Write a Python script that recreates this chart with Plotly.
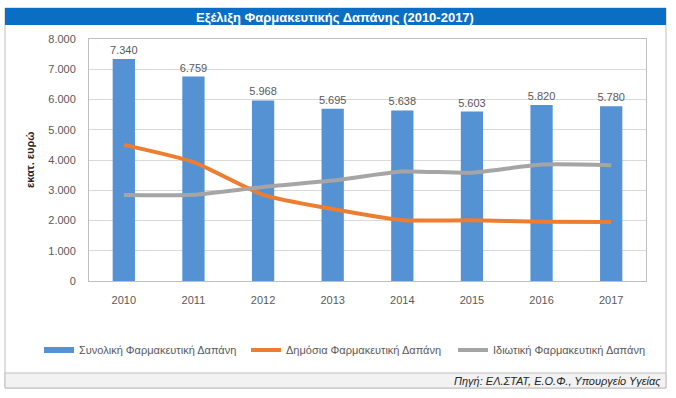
import plotly.graph_objects as go

years = ["2010", "2011", "2012", "2013", "2014", "2015", "2016", "2017"]
total = [7340, 6759, 5968, 5695, 5638, 5603, 5820, 5780]
public = [4500, 3930, 2850, 2380, 2010, 2010, 1960, 1950]
private = [2840, 2850, 3110, 3320, 3620, 3580, 3850, 3830]

title_text = "Εξέλιξη Φαρμακευτικής Δαπάνης (2010-2017)"
names = ["Συνολική Φαρμακευτική Δαπάνη", "Δημόσια Φαρμακευτική Δαπάνη", "Ιδιωτική Φαρμακευτική Δαπάνη"]
y_title = "εκατ. ευρώ"
source = "Πηγή: ΕΛ.ΣΤΑΤ, Ε.Ο.Φ., Υπουργείο Υγείας"

W, H = 676, 398
L, R, T, B = 89, 646, 39, 281
FONT = "Liberation Sans"
BLUE = "#5592d4"

def px(p):
    return (p - L) / (R - L)

def py(p):
    return (B - p) / (B - T)

fig = go.Figure()
fig.add_trace(go.Bar(
    x=years, y=total, name=names[0], width=0.32, showlegend=False,
    marker=dict(color=BLUE, line=dict(width=0)),
    texttemplate="%{y:,.0f}", textposition="outside", constraintext="none",
    textfont=dict(size=11, color="#595959", family=FONT), cliponaxis=False,
))
# legend-only entry for the bars (line-shaped swatch as in the reference)
fig.add_trace(go.Scatter(
    x=[years[0]], y=[None], name=names[0], mode="lines", legend="legend",
    line=dict(color=BLUE, width=6),
))
fig.add_trace(go.Scatter(
    x=years, y=public, name=names[1], mode="lines", legend="legend2",
    line=dict(color="#ED7D31", width=4, shape="spline", smoothing=0.6),
))
fig.add_trace(go.Scatter(
    x=years, y=private, name=names[2], mode="lines", legend="legend3",
    line=dict(color="#A5A5A5", width=4, shape="spline", smoothing=0.6),
))

shapes = [
    dict(type="rect", xref="paper", yref="paper", x0=px(5), x1=px(666), y0=py(8), y1=py(388),
         line=dict(color="#bfbfbf", width=1), fillcolor="rgba(0,0,0,0)", layer="below"),
    dict(type="rect", xref="paper", yref="paper", x0=px(5), x1=px(666), y0=py(8), y1=py(25),
         line=dict(width=0), fillcolor="#0a6ec4", layer="below"),
    dict(type="rect", xref="paper", yref="paper", x0=px(5), x1=px(666), y0=py(373), y1=py(388),
         line=dict(color="#bfbfbf", width=1), fillcolor="#f2f2f2", layer="below"),
]

annotations = [
    dict(text="<b>" + title_text + "</b>", xref="paper", yref="paper", x=px(335), y=py(17),
         xanchor="center", yanchor="middle", showarrow=False,
         font=dict(size=13, color="white", family=FONT)),
    dict(text="<i>" + source + "</i>", xref="paper", yref="paper", x=px(663), y=py(381),
         xanchor="right", yanchor="middle", showarrow=False,
         font=dict(size=11, color="#262626", family=FONT)),
    dict(text="<b>" + y_title + "</b>", xref="paper", yref="paper", x=px(30), y=0.5,
         xanchor="center", yanchor="middle", showarrow=False, textangle=-90,
         font=dict(size=11, color="#262626", family=FONT)),
]

def leg(x_left):
    return dict(orientation="h", x=px(x_left), xanchor="left", y=py(350), yanchor="middle",
                font=dict(size=11, color="#595959", family=FONT), itemwidth=30,
                bgcolor="rgba(0,0,0,0)", borderwidth=0)

fig.update_layout(
    width=W, height=H,
    margin=dict(l=L, r=W - R, t=T, b=H - B, pad=0, autoexpand=False),
    paper_bgcolor="white", plot_bgcolor="white",
    separators=",.",
    font=dict(family=FONT, size=11, color="#595959"),
    showlegend=True,
    legend=leg(39), legend2=leg(246), legend3=leg(453),
    shapes=shapes, annotations=annotations,
)
fig.update_xaxes(showgrid=False, showline=True, linecolor="#bfbfbf", linewidth=1, mirror=True,
                 ticks="", ticklabelstandoff=9, tickfont=dict(size=11, color="#595959"))
fig.update_yaxes(range=[0, 8000], dtick=1000, tickformat=",d", showgrid=True, gridcolor="#d9d9d9",
                 showline=True, linecolor="#bfbfbf", linewidth=1, mirror=True, zeroline=False,
                 ticks="", ticklabelstandoff=10, tickfont=dict(size=11, color="#595959"))

fig.write_html("out.html", config={"displayModeBar": False},
               post_script="document.body.style.margin='0';document.body.style.overflow='hidden';")
